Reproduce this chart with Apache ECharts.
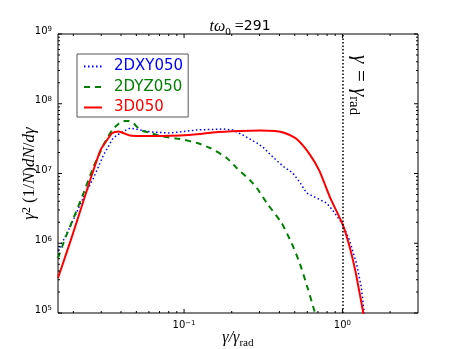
<!DOCTYPE html>
<html>
<head>
<meta charset="utf-8">
<script src="https://cdn.jsdelivr.net/npm/echarts@6/dist/echarts.min.js"></script>
<style>
  html, body { margin: 0; height: 100%; background: #fff; }
  #chart { width: 463px; height: 349px; }
</style>
</head>
<body>
<div id="chart"></div>
<script>
// axis ranges
var xRange = [0.016, 3];
var yRange = [1e5, 1e9];
var xMajor = [0.1, 1];
var yMajor = [1e5, 1e6, 1e7, 1e8, 1e9];

// 2DXY050 (blue, dotted)
var xDXY = [0.016, 0.0192, 0.0232, 0.0268, 0.0310, 0.0357, 0.0396, 0.0457, 0.0529, 0.0611, 0.0816, 0.121, 0.176, 0.203, 0.235, 0.288, 0.314, 0.363, 0.420, 0.485, 0.537, 0.594, 0.686, 0.793, 0.865, 1.0, 1.107, 1.225, 1.315, 1.355, 1.374];
var yDXY = [7.7e5, 1.77e6, 4.6e6, 8.6e6, 1.84e7, 3.23e7, 3.81e7, 4.49e7, 4.21e7, 3.94e7, 3.81e7, 4.21e7, 4.34e7, 4.21e7, 3.56e7, 2.74e7, 2.40e7, 1.73e7, 1.28e7, 1.02e7, 7.55e6, 5.25e6, 4.46e6, 3.78e6, 3.0e6, 1.89e6, 1.11e6, 5.21e5, 2.36e5, 1.30e5, 1.0e5];

// 2DYZ050 (green, dashed)
var xDYZ = [0.016, 0.0179, 0.0198, 0.0232, 0.0268, 0.0310, 0.0352, 0.0385, 0.0413, 0.0445, 0.0478, 0.0529, 0.0611, 0.0706, 0.0944, 0.121, 0.146, 0.186, 0.215, 0.260, 0.288, 0.333, 0.413, 0.478, 0.537, 0.603, 0.667, 0.697];
var yDYZ = [6.15e5, 1.23e6, 2.15e6, 5.25e6, 1.24e7, 2.56e7, 4.21e7, 5.13e7, 5.66e7, 5.66e7, 5.29e7, 4.21e7, 3.81e7, 3.45e7, 3.12e7, 2.74e7, 2.32e7, 1.67e7, 1.20e7, 8.07e6, 6.20e6, 3.78e6, 1.95e6, 1.0e6, 5.21e5, 2.28e5, 1.05e5, 7.4e4];

// 3D050 (red, solid)
var x3D = [0.016, 0.0192, 0.0222, 0.0256, 0.0297, 0.0333, 0.0352, 0.0368, 0.0385, 0.0413, 0.0457, 0.0529, 0.0706, 0.0944, 0.126, 0.152, 0.225, 0.301, 0.374, 0.432, 0.514, 0.620, 0.717, 0.828, 1.0, 1.107, 1.207, 1.297, 1.355, 1.39];
var y3D = [3.18e5, 1.08e6, 3.0e6, 8.2e6, 2.17e7, 3.23e7, 3.81e7, 3.94e7, 4.0e7, 3.81e7, 3.5e7, 3.45e7, 3.45e7, 3.5e7, 3.68e7, 3.87e7, 4.07e7, 4.14e7, 4.07e7, 3.81e7, 3.12e7, 1.9e7, 1.08e7, 4.75e6, 1.89e6, 9.1e5, 4.0e5, 1.7e5, 1.0e5, 7e4];

var gammaRad = 1;

function zip(xs, ys) { return xs.map(function (x, i) { return [x, ys[i]]; }); }

function minorTicks(lo, hi) {
  var out = [];
  for (var e = Math.floor(Math.log10(lo)); e <= Math.ceil(Math.log10(hi)); e++) {
    for (var k = 2; k <= 9; k++) {
      var v = k * Math.pow(10, e);
      if (v > lo && v < hi) out.push(v);
    }
  }
  return out;
}

function tickSeries(axis, vals, len) {
  return {
    type: 'custom', silent: true, z: 5, clip: false,
    data: vals.map(function (v) { return axis === 'x' ? [v, yRange[0]] : [xRange[0], v]; }),
    renderItem: function (params, api) {
      var segs;
      if (axis === 'x') {
        var b = api.coord([api.value(0), yRange[0]]), t = api.coord([api.value(0), yRange[1]]);
        segs = [[b[0], b[1], b[0], b[1] - len], [t[0], t[1], t[0], t[1] + len]];
      } else {
        var l = api.coord([xRange[0], api.value(1)]), r = api.coord([xRange[1], api.value(1)]);
        segs = [[l[0], l[1], l[0] + len, l[1]], [r[0], r[1], r[0] - len, r[1]]];
      }
      return {
        type: 'group',
        children: segs.map(function (s) {
          return { type: 'line', shape: { x1: s[0], y1: s[1], x2: s[2], y2: s[3] }, style: { stroke: '#000', lineWidth: 1 } };
        })
      };
    }
  };
}

function powLabel(v) {
  var e = Math.log10(v);
  if (Math.abs(e - Math.round(e)) > 1e-6) return '';
  e = Math.round(e);
  return '{b|10}{s|' + (e < 0 ? '\u2212' + (-e) : e) + '}';
}
var labelRich = {
  b: { fontSize: 10, lineHeight: 16, verticalAlign: 'top', fontFamily: 'DejaVu Sans', color: '#000' },
  s: { fontSize: 7, lineHeight: 7, verticalAlign: 'top', fontFamily: 'DejaVu Sans', color: '#000' }
};
var serif = 'Liberation Serif';
function mathStyle(size) {
  return {
    i: { fontFamily: serif, fontStyle: 'italic', fontSize: size, lineHeight: size + 3, verticalAlign: 'top', color: '#000' },
    r: { fontFamily: serif, fontSize: size, lineHeight: size + 3, verticalAlign: 'top', color: '#000' },
    sub: { fontFamily: serif, fontSize: size * 0.7, lineHeight: size * 0.7, verticalAlign: 'bottom', color: '#000' },
    sup: { fontFamily: serif, fontSize: size * 0.7, lineHeight: size * 0.7, verticalAlign: 'top', color: '#000' },
    n: { fontFamily: 'DejaVu Sans', fontSize: size - 2, lineHeight: size + 3, verticalAlign: 'top', color: '#000' }
  };
}

var chart = echarts.init(document.getElementById('chart'));
var option = {
  animation: false,
  backgroundColor: '#fff',
  title: {
    left: 235, top: 14, textAlign: 'center',
    text: '{i|t\u03c9}{sub|0}{r| =}{n|291}',
    textStyle: { fontWeight: 'normal', rich: mathStyle(16) }
  },
  grid: {
    left: 58, right: 45, top: 34, bottom: 36, outerBoundsMode: 'none',
    show: true, borderColor: '#000', borderWidth: 1
  },
  legend: {
    orient: 'vertical', left: 77, top: 54,
    padding: [5, 5, 2, 6], itemWidth: 18, itemHeight: 14, itemGap: 5.5,
    backgroundColor: '#fff', borderColor: '#555', borderWidth: 1, borderRadius: 0,
    itemStyle: { opacity: 0 },
    textStyle: { fontSize: 15, fontFamily: 'DejaVu Sans', padding: [0, 0, 0, 7] },
    data: [
      { name: '2DXY050', textStyle: { color: '#0000ff' } },
      { name: '2DYZ050', textStyle: { color: '#008000' } },
      { name: '3D050', textStyle: { color: '#ff0000' } }
    ]
  },
  xAxis: {
    type: 'log', min: xRange[0], max: xRange[1],
    axisLine: { show: false }, axisTick: { show: false }, splitLine: { show: false },
    axisLabel: { formatter: powLabel, rich: labelRich, margin: 7, showMinLabel: false, showMaxLabel: false },
    name: '{i|\u03b3/\u03b3}{sub|rad}', nameLocation: 'middle', nameGap: 17, nameMoveOverlap: false,
    nameTextStyle: { rich: mathStyle(16) }
  },
  yAxis: {
    type: 'log', min: yRange[0], max: yRange[1],
    axisLine: { show: false }, axisTick: { show: false }, splitLine: { show: false },
    axisLabel: { formatter: powLabel, rich: labelRich, margin: 6 },
    name: '{i|\u03b3}{sup|2}{r| (1/}{i|N}{r|)}{i|dN}{r|/}{i|d\u03b3}', nameLocation: 'middle', nameGap: 17, nameMoveOverlap: false,
    nameTextStyle: { rich: mathStyle(17) }
  },
  series: [
    {
      name: '2DXY050', type: 'line', data: zip(xDXY, yDXY), showSymbol: false, symbol: 'none',
      lineStyle: { color: '#0000ff', width: 1.5, type: [1.5, 2.5] }, itemStyle: { color: '#0000ff' },
      markLine: {
        silent: true, symbol: ['none', 'none'], label: { show: false },
        lineStyle: { color: '#000', width: 1.5, type: [1.5, 2] },
        data: [{ xAxis: gammaRad }]
      }
    },
    {
      name: '2DYZ050', type: 'line', data: zip(xDYZ, yDYZ), showSymbol: false, symbol: 'none', smooth: 0.2,
      lineStyle: { color: '#008000', width: 2, type: [6, 5] }, itemStyle: { color: '#008000' }
    },
    {
      name: '3D050', type: 'line', data: zip(x3D, y3D), showSymbol: false, symbol: 'none', smooth: 0.2,
      lineStyle: { color: '#ff0000', width: 2 }, itemStyle: { color: '#ff0000' }
    },
    tickSeries('x', xMajor, 4),
    tickSeries('x', minorTicks(xRange[0], xRange[1]), 2),
    tickSeries('y', yMajor, 4),
    tickSeries('y', minorTicks(yRange[0], yRange[1]), 2)
  ]
};
chart.setOption(option);

// vertical annotation next to the gamma_rad line
var lx = chart.convertToPixel({ xAxisIndex: 0 }, gammaRad);
var ly = chart.convertToPixel({ yAxisIndex: 0 }, yRange[1]);
chart.setOption({
  graphic: [{
    type: 'text', x: lx + 16, y: ly + 21, rotation: -Math.PI / 2,
    style: {
      text: '{i|\u03b3 = \u03b3}{sub|rad}', rich: mathStyle(21),
      textAlign: 'left', textVerticalAlign: 'middle'
    }
  }]
});
</script>
</body>
</html>
